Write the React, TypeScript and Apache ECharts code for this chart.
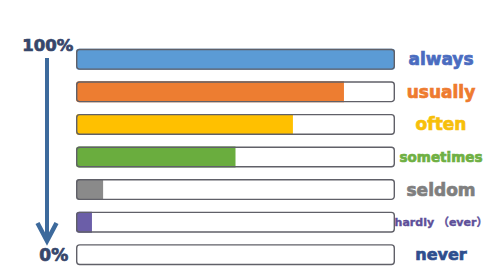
import React, { useEffect, useRef } from "react";
import * as echarts from "echarts";

const categories = ["always", "usually", "often", "sometimes", "seldom", "hardly （ever）", "never"];
const values = [100, 84, 68, 50, 8.5, 5, 0];
const fillColors = ["#5b9bd5", "#ed7d31", "#ffc000", "#6aad3e", "#8a8a8a", "#6b5ea8", "#ffffff"];
const labelColors = ["#4a6cc0", "#ee7b2f", "#f7bf0a", "#6fb043", "#7f7f7f", "#5d4f99", "#2e4e8e"];
const labelSizes = [17, 17, 17, 13.5, 17, 11, 16];
const topLabel = "100%";
const bottomLabel = "0%";

export default function App() {
  const ref = useRef<HTMLDivElement>(null);
  useEffect(() => {
    if (!ref.current) return;
    const chart = echarts.init(ref.current, null, { renderer: "svg" });
    const rich: Record<string, any> = {};
    categories.forEach((c, i) => {
      rich["c" + i] = {
        color: labelColors[i],
        fontSize: labelSizes[i],
        fontWeight: "bold",
        fontFamily: "DejaVu Sans, Noto Sans CJK SC, sans-serif",
        textBorderColor: labelColors[i],
        textBorderWidth: i === 5 ? 0.4 : 0.7,
      };
    });
    const full = categories.map(() => 100);
    chart.setOption({
      animation: false,
      backgroundColor: "#ffffff",
      grid: { left: 76, right: 105, top: 43, bottom: 9 },
      xAxis: { type: "value", min: 0, max: 100, show: false },
      yAxis: {
        type: "category",
        data: categories,
        inverse: true,
        position: "right",
        axisLine: { show: false },
        axisTick: { show: false },
        axisLabel: {
          align: "center",
          margin: 46,
          formatter: (v: string) => {
            const i = categories.indexOf(v);
            return "{c" + i + "|" + v + "}";
          },
          rich,
        },
      },
      series: [
        {
          type: "bar",
          data: full,
          barWidth: 21,
          barGap: "-100%",
          itemStyle: { color: "#ffffff", borderRadius: 3 },
          silent: true,
          z: 1,
        },
        {
          type: "bar",
          data: values.map((v, i) => ({
            value: v,
            itemStyle: {
              color: fillColors[i],
              borderRadius: v >= 100 ? 3 : [3, 0, 0, 3],
            },
          })),
          barWidth: 21,
          barGap: "-100%",
          z: 2,
        },
        {
          type: "bar",
          data: full,
          barWidth: 21,
          barGap: "-100%",
          itemStyle: {
            color: "transparent",
            borderColor: "#606068",
            borderWidth: 1.4,
            borderRadius: 3,
          },
          silent: true,
          z: 3,
        },
      ],
      graphic: [
        {
          type: "text",
          left: 22,
          top: 37,
          style: {
            text: topLabel,
            fill: "#36466b",
            stroke: "#36466b",
            lineWidth: 0.7,
            font: "bold 16.5px DejaVu Sans",
          },
        },
        {
          type: "text",
          left: 39,
          top: 246,
          style: {
            text: bottomLabel,
            fill: "#36466b",
            stroke: "#36466b",
            lineWidth: 0.7,
            font: "bold 17px DejaVu Sans",
          },
        },
        {
          type: "line",
          shape: { x1: 47, y1: 58, x2: 47, y2: 240 },
          style: { stroke: "#3d6a9c", lineWidth: 4 },
        },
        {
          type: "polyline",
          shape: { points: [[37.5, 223], [47, 241], [56.5, 223]] },
          style: { stroke: "#3d6a9c", lineWidth: 4.5, fill: null, lineJoin: "miter" },
        },
      ],
    });
    return () => chart.dispose();
  }, []);
  return <div ref={ref} style={{ width: 500, height: 280, margin: -8 }} />;
}
